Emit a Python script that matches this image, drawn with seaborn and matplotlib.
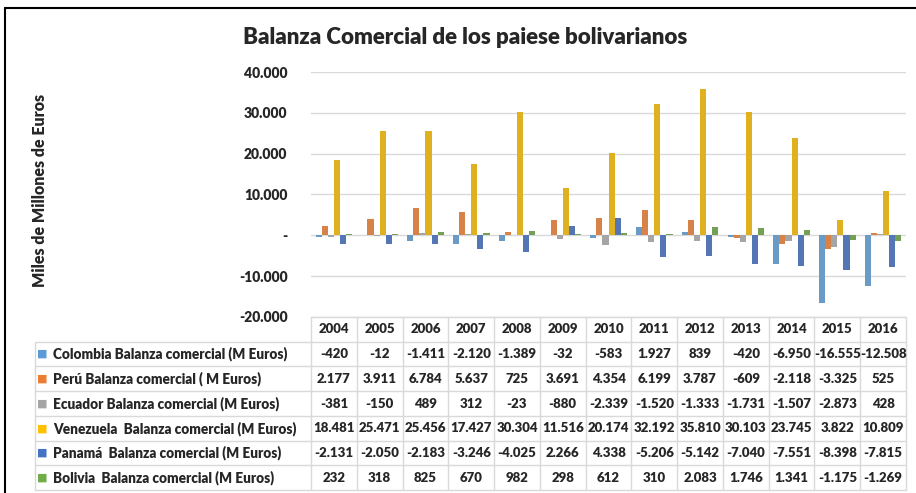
import numpy as np
import pandas as pd
import matplotlib
matplotlib.use("Agg")
import matplotlib.pyplot as plt
from matplotlib.lines import Line2D
from matplotlib.ticker import FuncFormatter, MultipleLocator
import seaborn as sns

# --- DATA ---
years = ["2004", "2005", "2006", "2007", "2008", "2009", "2010",
         "2011", "2012", "2013", "2014", "2015", "2016"]
series_labels = [
    "Colombia Balanza comercial (M Euros)",
    "Perú Balanza comercial ( M Euros)",
    "Ecuador Balanza comercial (M Euros)",
    "Venezuela  Balanza comercial (M Euros)",
    "Panamá  Balanza comercial (M Euros)",
    "Bolivia  Balanza comercial (M Euros)",
]
colombia = [-420, -12, -1411, -2120, -1389, -32, -583, 1927, 839, -420, -6950, -16555, -12508]
peru = [2177, 3911, 6784, 5637, 725, 3691, 4354, 6199, 3787, -609, -2118, -3325, 525]
ecuador = [-381, -150, 489, 312, -23, -880, -2339, -1520, -1333, -1731, -1507, -2873, 428]
venezuela = [18481, 25471, 25456, 17427, 30304, 11516, 20174, 32192, 35810, 30103, 23745, 3822, 10809]
panama = [-2131, -2050, -2183, -3246, -4025, 2266, 4338, -5206, -5142, -7040, -7551, -8398, -7815]
bolivia = [232, 318, 825, 670, 982, 298, 612, 310, 2083, 1746, 1341, -1175, -1269]

COLORS = ["#5B9BD5", "#ED7D31", "#A5A5A5", "#FFC000", "#4472C4", "#70AD47"]
GRID = "#d9d9d9"
WEIGHT = "heavy"

sns.set_style("white")
plt.rcParams["font.family"] = ["Lato", "DejaVu Sans"]
plt.rcParams["font.weight"] = WEIGHT

all_series = [colombia, peru, ecuador, venezuela, panama, bolivia]
df = pd.DataFrame([
    {"year": y, "serie": lab, "valor": v}
    for lab, vals in zip(series_labels, all_series)
    for y, v in zip(years, vals)
])


def fmt_miles(v):
    if abs(v) < 0.5:
        return "-"
    return f"{v:,.0f}".replace(",", ".")


W, H = 916, 493
fig = plt.figure(figsize=(W / 100, H / 100), dpi=100)

# plot area
px0, px1, py_top, py_bot = 311, 906, 72, 317
ax = fig.add_axes([px0 / W, 1 - py_bot / H, (px1 - px0) / W, (py_bot - py_top) / H])
sns.barplot(data=df, x="year", y="valor", hue="serie", hue_order=series_labels,
            order=years, palette=COLORS, width=0.8, linewidth=0, legend=False, ax=ax)
ax.set_xlim(-0.5, len(years) - 0.5)
ax.set_ylim(-20000, 40000)
ax.yaxis.set_major_locator(MultipleLocator(10000))
ax.yaxis.set_major_formatter(FuncFormatter(lambda v, p: fmt_miles(v)))
ax.grid(axis="y", color=GRID, linewidth=1)
ax.set_axisbelow(True)
for s in ax.spines.values():
    s.set_visible(False)
ax.set_xticks([])
ax.set_xlabel("")
ax.set_ylabel("")
ax.tick_params(axis="y", length=0, pad=17, labelsize=10)
for t in ax.get_yticklabels():
    t.set_fontweight(WEIGHT)

fig.text(465 / W, 1 - 37 / H, "Balanza Comercial de los paiese bolivarianos",
         ha="center", va="center", fontsize=16, fontweight=WEIGHT)
fig.text(40 / W, 1 - 190 / H, "Miles de Millones de Euros", rotation=90,
         ha="center", va="center", fontsize=11.5, fontweight=WEIGHT)

# data table
tx0, ty_top, ty_bot = 35, 317, 490
colw = (px1 - px0) / len(years)
L = (px0 - tx0) / colw
tax = fig.add_axes([tx0 / W, 1 - ty_bot / H, (px1 - tx0) / W, (ty_bot - ty_top) / H])
nrows = len(series_labels) + 1
tax.set_xlim(-0.5 - L, len(years) - 0.5)
tax.set_ylim(nrows, 0)
tax.axis("off")

for k in range(len(years) + 1):
    tax.plot([k - 0.5, k - 0.5], [0, nrows], color=GRID, lw=1, clip_on=False)
tax.plot([-0.5, len(years) - 0.5], [0, 0], color=GRID, lw=1, clip_on=False)
for r in range(1, nrows + 1):
    tax.plot([-0.5 - L, len(years) - 0.5], [r, r], color=GRID, lw=1, clip_on=False)
tax.plot([-0.5 - L, -0.5 - L], [1, nrows], color=GRID, lw=1, clip_on=False)

for i, y in enumerate(years):
    tax.text(i, 0.5, y, ha="center", va="center", fontsize=9.5, fontweight=WEIGHT)
for r, (lab, vals, col) in enumerate(zip(series_labels, all_series, COLORS), start=1):
    tax.text(-0.5 - L + 0.05, r + 0.5, "■", color=col, ha="left", va="center",
             fontsize=8, family="DejaVu Sans")
    tax.text(-0.5 - L + 0.39, r + 0.5, lab, ha="left", va="center",
             fontsize=9.8, fontweight=WEIGHT)
    for i, v in enumerate(vals):
        tax.text(i, r + 0.5, fmt_miles(v), ha="center", va="center",
                 fontsize=9.5, fontweight=WEIGHT)

# outer chart frame (top and left edges visible)
fig.add_artist(Line2D([5 / W, 5 / W], [0, 1 - 8 / H], transform=fig.transFigure,
                      color="black", lw=1.5))
fig.add_artist(Line2D([5 / W, 1], [1 - 8 / H, 1 - 8 / H], transform=fig.transFigure,
                      color="black", lw=1.5))

fig.savefig("out.png", dpi=100)
